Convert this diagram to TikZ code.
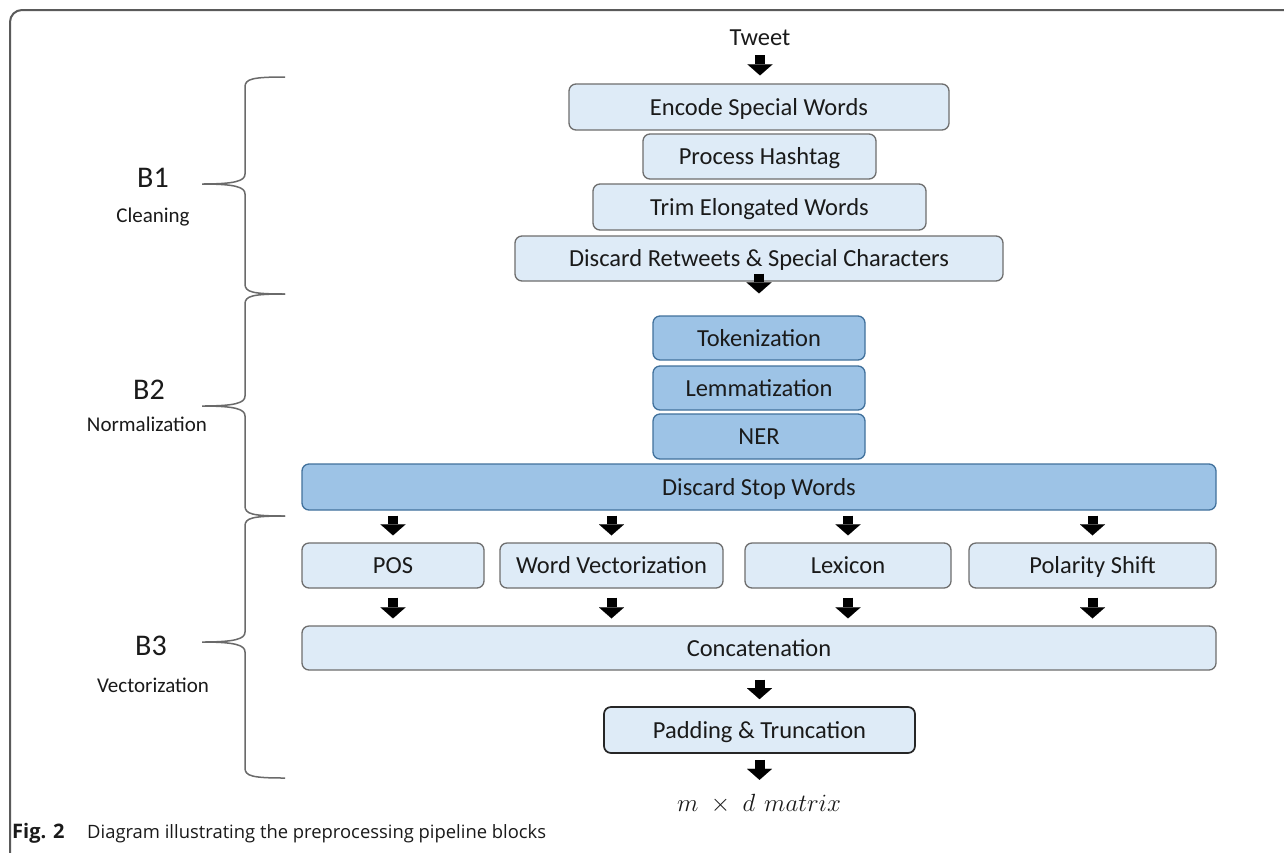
\documentclass[tikz,border=0pt]{standalone}
\usepackage{fontspec}
\setmainfont{Carlito}
\newfontfamily\capfont{Open Sans}
\usetikzlibrary{arrows.meta,calc}

\definecolor{lightfill}{HTML}{DEEBF7}
\definecolor{darkfill}{HTML}{9DC3E6}
\definecolor{darkline}{HTML}{41719C}
\definecolor{boxline}{HTML}{6E6E6E}
\definecolor{txt}{HTML}{1A1A1A}
\definecolor{bracecol}{HTML}{6A6A6A}
\definecolor{framecol}{HTML}{5A5A5A}

\tikzset{
  lbox/.style={draw=boxline, fill=lightfill, rounded corners=7, line width=1.3,
    inner sep=0, text height=16, text depth=0, text=txt,
    font=\fontsize{24.5}{28}\selectfont},
  dbox/.style={lbox, draw=darkline, fill=darkfill},
  pbox/.style={lbox, draw=black!85, line width=1.7},
  plain/.style={inner sep=0, text height=16, text depth=0, text=txt,
    font=\fontsize{24.5}{28}\selectfont},
  blk/.style={draw=black, line width=10,
    -{Triangle[width=25pt,length=11pt,line width=0.01pt]}},
  bracepath/.style={draw=bracecol, line width=1.5},
  bigl/.style={text=txt, font=\fontsize{30}{34}\selectfont},
  smalll/.style={text=txt, font=\fontsize{21}{24}\selectfont},
}

\begin{document}
\begin{tikzpicture}[x=1pt,y=-1pt]
\useasboundingbox (0,0) rectangle (1284,852);
\fill[white] (0,0) rectangle (1284,852);

% outer frame
\draw[framecol, line width=2, rounded corners=12] (10,870) -- (10,10) -- (1300,10);

% block B1: cleaning
\node[plain] (tweet) at (760,37) {Tweet};
\node[lbox, minimum width=380, minimum height=46] (encode) at (759,107) {Encode Special Words};
\node[lbox, minimum width=233, minimum height=45] (hashtag) at (759.5,156.5) {Process Hashtag};
\node[lbox, minimum width=333, minimum height=46] (trim) at (759.5,207) {Trim Elongated Words};
\node[lbox, minimum width=488, minimum height=45] (retweet) at (759,258.5) {Discard Retweets \& Special Characters};

% block B2: normalization
\node[dbox, minimum width=212, minimum height=44] (token) at (759,338) {Tokenization};
\node[dbox, minimum width=212, minimum height=44] (lemma) at (759,388) {Lemmatization};
\node[dbox, minimum width=212, minimum height=45] (ner) at (759,436.5) {NER};
\node[dbox, minimum width=914, minimum height=46] (stop) at (759,487) {Discard Stop Words};

% block B3: vectorization
\node[lbox, minimum width=182, minimum height=45] (pos) at (393,565.5) {POS};
\node[lbox, minimum width=223, minimum height=45] (wv) at (611.5,565.5) {Word Vectorization};
\node[lbox, minimum width=206, minimum height=45] (lex) at (848,565.5) {Lexicon};
\node[lbox, minimum width=247, minimum height=45] (pol) at (1092.5,565.5) {Polarity Shift};
\node[lbox, minimum width=914, minimum height=44] (concat) at (759,648) {Concatenation};
\node[pbox, minimum width=311, minimum height=46] (pad) at (759.5,730) {Padding \& Truncation};
\node[plain] (matrix) at (759,803) {$m \;\times\; d\hspace{9pt}matrix$};

% arrows
\draw[blk, shorten <=10, shorten >=8] (tweet.south) -- (tweet.south |- encode.north);
\draw[blk, shorten <=-8, shorten >=22] (retweet.south) -- (retweet.south |- token.north);
\foreach \b in {pos,wv,lex,pol}{
  \draw[blk, shorten <=5, shorten >=7] (\b.north |- stop.south) -- (\b.north);
  \draw[blk, shorten <=9, shorten >=7] (\b.south) -- (\b.south |- concat.north);
}
\draw[blk, shorten <=9, shorten >=7] (pad.north |- concat.south) -- (pad.north);
\draw[blk, shorten <=6, shorten >=15] (pad.south) -- (pad.south |- matrix.north);

% braces
\foreach \t/\m/\b in {77/184/294, 294/406/516, 516/642/778}{
  \draw[bracepath] (285,\t) .. controls (252,\t) and (245,\t+2) .. (245,\t+10)
    -- (245,\m-10) .. controls (245,\m-3) and (235,\m) .. (202,\m)
    .. controls (235,\m) and (245,\m+3) .. (245,\m+10)
    -- (245,\b-10) .. controls (245,\b-2) and (252,\b) .. (285,\b);
}

% block labels
\node[bigl] (b1) at (153,178) {B1};
\node[smalll] (l1) at (153,217) {Cleaning};
\node[bigl] (b2) at (149,390) {B2};
\node[smalll] (l2) at (147,424) {Normalization};
\node[bigl] (b3) at (151,646) {B3};
\node[smalll] (l3) at (153,685) {Vectorization};

% caption
\node[anchor=base west, inner sep=0, text=txt, font=\capfont\fontsize{20}{23}\selectfont\bfseries] (fig) at (12,838) {Fig. 2};
\node[anchor=base west, inner sep=0, text=txt, font=\capfont\fontsize{18.4}{21}\selectfont] (cap) at (87,838)
  {Diagram illustrating the preprocessing pipeline blocks};
\end{tikzpicture}
\end{document}
